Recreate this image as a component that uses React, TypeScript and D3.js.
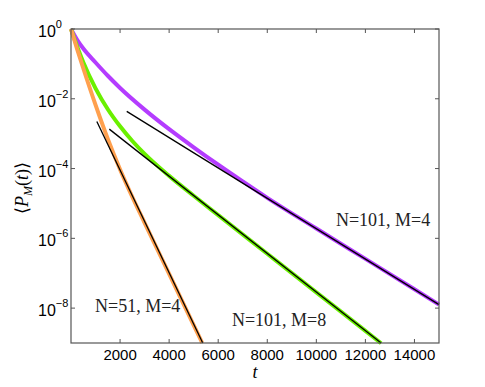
import React from "react";
import * as d3 from "d3";

// time samples (t) and log10 of <P_M(t)>
const purpleT = [0, 250, 500, 1000, 1500, 2000, 3000, 4000, 5000, 6000, 7000, 8000, 10000, 12000, 14000, 15000];
const purpleLog = [0, -0.31, -0.56, -0.96, -1.34, -1.69, -2.31, -2.87, -3.39, -3.89, -4.37, -4.84, -5.72, -6.59, -7.46, -7.9];

const greenT = [0, 250, 500, 1000, 1500, 2000, 2500, 3000, 4000, 5000, 6000, 8000, 10000, 12000, 12640];
const greenLog = [0, -0.5, -0.95, -1.7, -2.3, -2.79, -3.21, -3.58, -4.21, -4.78, -5.335, -6.441, -7.547, -8.653, -9.007];

const orangeT = [0, 250, 500, 1000, 1500, 2000, 2500, 3000, 4000, 5000, 5350];
const orangeLog = [0, -0.575, -1.125, -2.175, -3.15, -4.025, -4.815, -5.555, -7.02, -8.485, -9.0];

// asymptotic fits: [t start, t end], [log start, log end]
const fitOrangeT = [1053, 5370];
const fitOrangeLog = [-2.65, -9];
const fitGreenT = [1560, 12640];
const fitGreenLog = [-2.87, -9];
const fitPurpleT = [2272, 15000];
const fitPurpleLog = [-2.36, -7.9];

const xTicks = [2000, 4000, 6000, 8000, 10000, 12000, 14000];
const yTickExp = [0, -2, -4, -6, -8];

const labels = [
  { text: "N=101, M=4", t: 10800, log: -5.66 },
  { text: "N=101, M=8", t: 6560, log: -8.51 },
  { text: "N=51, M=4", t: 978, log: -8.11 },
];

const W = 485;
const H = 387;
const margin = { left: 71, right: 46, top: 29, bottom: 44 };

export default function App() {
  const x = d3.scaleLinear().domain([0, 15000]).range([margin.left, W - margin.right]);
  const y = d3.scaleLog().domain([1e-9, 1]).range([H - margin.bottom, margin.top]);

  const line = d3
    .line<[number, number]>()
    .x((d) => x(d[0]))
    .y((d) => y(Math.pow(10, d[1])))
    .curve(d3.curveMonotoneX);

  const pts = (ts: number[], ls: number[]) => ts.map((t, i) => [t, ls[i]] as [number, number]);

  const x0 = x(0);
  const x1 = x(15000);
  const y0 = y(1e-9);
  const y1 = y(1);
  const axisCol = "#555";
  const tl = 4;

  return (
    <svg width={W} height={H} style={{ position: "absolute", left: 0, top: 0, background: "#fff" }}>
      {/* curves */}
      <path d={line(pts(purpleT, purpleLog)) || ""} fill="none" stroke="#b43cff" strokeWidth={4} />
      <path d={line(pts(greenT, greenLog)) || ""} fill="none" stroke="#6af000" strokeWidth={4} />
      <path d={line(pts(orangeT, orangeLog)) || ""} fill="none" stroke="#ffa04e" strokeWidth={4} />

      {/* fits */}
      {[
        [fitOrangeT, fitOrangeLog],
        [fitGreenT, fitGreenLog],
        [fitPurpleT, fitPurpleLog],
      ].map(([ts, ls], i) => (
        <path key={i} d={d3.line()(pts(ts, ls).map((d) => [x(d[0]), y(Math.pow(10, d[1]))])) || ""} fill="none" stroke="#000" strokeWidth={1.3} />
      ))}

      {/* axes box */}
      <rect x={x0} y={y1} width={x1 - x0} height={y0 - y1} fill="none" stroke={axisCol} strokeWidth={1.2} />
      {xTicks.map((t) => (
        <g key={t}>
          <line x1={x(t)} x2={x(t)} y1={y0} y2={y0 - tl} stroke={axisCol} />
          <line x1={x(t)} x2={x(t)} y1={y1} y2={y1 + tl} stroke={axisCol} />
          <text x={x(t)} y={360} textAnchor="middle" fontFamily="Liberation Sans, Arial, sans-serif" fontSize={15} fill="#000">
            {t}
          </text>
        </g>
      ))}
      {yTickExp.map((e) => (
        <g key={e}>
          <line x1={x0} x2={x0 + tl} y1={y(Math.pow(10, e))} y2={y(Math.pow(10, e))} stroke={axisCol} />
          <line x1={x1} x2={x1 - tl} y1={y(Math.pow(10, e))} y2={y(Math.pow(10, e))} stroke={axisCol} />
          <text x={38} y={y(Math.pow(10, e)) + 8} fontFamily="Liberation Sans, Arial, sans-serif" fontSize={16} fill="#000">
            10
            <tspan dy={-9} fontSize={11}>
              {e === 0 ? "0" : "\u2212" + Math.abs(e)}
            </tspan>
          </text>
        </g>
      ))}

      {/* axis labels */}
      <text x={255} y={378} textAnchor="middle" fontFamily="Liberation Serif, serif" fontStyle="italic" fontSize={18}>
        t
      </text>
      <text
        transform={`translate(28,188) rotate(-90)`}
        textAnchor="middle"
        fontFamily="Liberation Serif, serif"
        fontSize={18}
      >
        {"\u27E8"}
        <tspan fontStyle="italic">P</tspan>
        <tspan fontStyle="italic" fontSize={12} dy={4}>M</tspan>
        <tspan dy={-4}>(</tspan>
        <tspan fontStyle="italic">t</tspan>
        {")\u27E9"}
      </text>

      {/* curve labels */}
      {labels.map((l) => (
        <text key={l.text} x={x(l.t)} y={y(Math.pow(10, l.log))} fontFamily="Liberation Serif, serif" fontSize={18} fill="#222">
          {l.text}
        </text>
      ))}
    </svg>
  );
}
